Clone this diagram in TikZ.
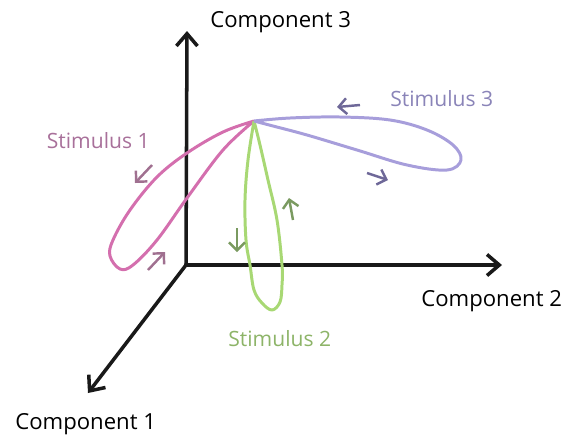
\documentclass[tikz,border=0pt]{standalone}
\usepackage{fontspec}
\setmainfont{Open Sans}
\usetikzlibrary{arrows.meta}
\definecolor{stimA}{HTML}{D46FAE}
\definecolor{stimAtext}{HTML}{A8709A}
\definecolor{stimAarr}{HTML}{A07090}
\definecolor{stimB}{HTML}{A8D874}
\definecolor{stimBtext}{HTML}{8DB468}
\definecolor{stimBarr}{HTML}{7A9A60}
\definecolor{stimC}{HTML}{A79EDB}
\definecolor{stimCtext}{HTML}{8A84B8}
\definecolor{stimCarr}{HTML}{6E6898}
\tikzset{
  axis/.style={line width=2pt, black!90, -{Straight Barb[length=7pt, width=12pt]}},
  loop/.style={line width=1.7pt, line join=round},
  flow/.style={line width=1.4pt, -{Straight Barb[length=4.5pt, width=9pt]}},
  lab/.style={inner sep=0pt, anchor=base west, font=\fontsize{12.6}{15}\selectfont},
  stimlab/.style={lab, font=\fontsize{12}{14}\selectfont},
}
\begin{document}
\begin{tikzpicture}[x=0.02cm, y=-0.02cm]
        \useasboundingbox (0,0) rectangle (562,434);

        % Axes
        \coordinate (O) at (186,265);
        \coordinate (top3) at (187,31);
        \coordinate (end2) at (502,265);
        \coordinate (end1) at (88,393);
        \draw[axis] (O) -- (top3);
        \draw[axis] (O) -- (end2);
        \draw[axis] (O) -- (end1);
        \node[lab] (comp3) at (210,27) {Component 3};
        \node[lab] (comp2) at (421,306.5) {Component 2};
        \node[lab] (comp1) at (15,429) {Component 1};

        % Meeting point of the three loops
        \coordinate (P) at (254,121);

        % Stimulus 1
        \draw[loop, stimA] plot[smooth, tension=0.6] coordinates {(P) (223,132) (187,153) (157,177) (130,210) (113,240) (110,256) (120,269) (133,265) (157,240) (187,198) (223,150) (P)};
        \node[stimlab, stimAtext] (stim1) at (46.5,148.3) {Stimulus 1};
        \draw[flow, stimAarr] (152,165) -- (135,183);
        \draw[flow, stimAarr] (148,270) -- (165,252);

        % Stimulus 2
        \draw[loop, stimB] plot[smooth, tension=0.6] coordinates {(P) (248,160) (245,200) (246,240) (250,265) (254,290) (262,303) (272,310) (280,302) (282,285) (282,265) (277,220) (268,180) (260,145) (P)};
        \node[stimlab, stimBtext] (stim2) at (228,346.7) {Stimulus 2};
        \draw[flow, stimBarr] (237,228) -- (237,252);
        \draw[flow, stimBarr] (293,220) -- (289,198);

        % Stimulus 3
        \draw[loop, stimC] plot[smooth, tension=0.6] coordinates {(P) (290,118) (340,117) (390,120) (427,130) (453,145) (461,160) (447,170) (407,165) (357,150) (307,135) (273,126) (P)};
        \node[stimlab, stimCtext] (stim3) at (390,106.7) {Stimulus 3};
        \draw[flow, stimCarr] (360,105) -- (337,107);
        \draw[flow, stimCarr] (367,173) -- (388,180);

\end{tikzpicture}
\end{document}
